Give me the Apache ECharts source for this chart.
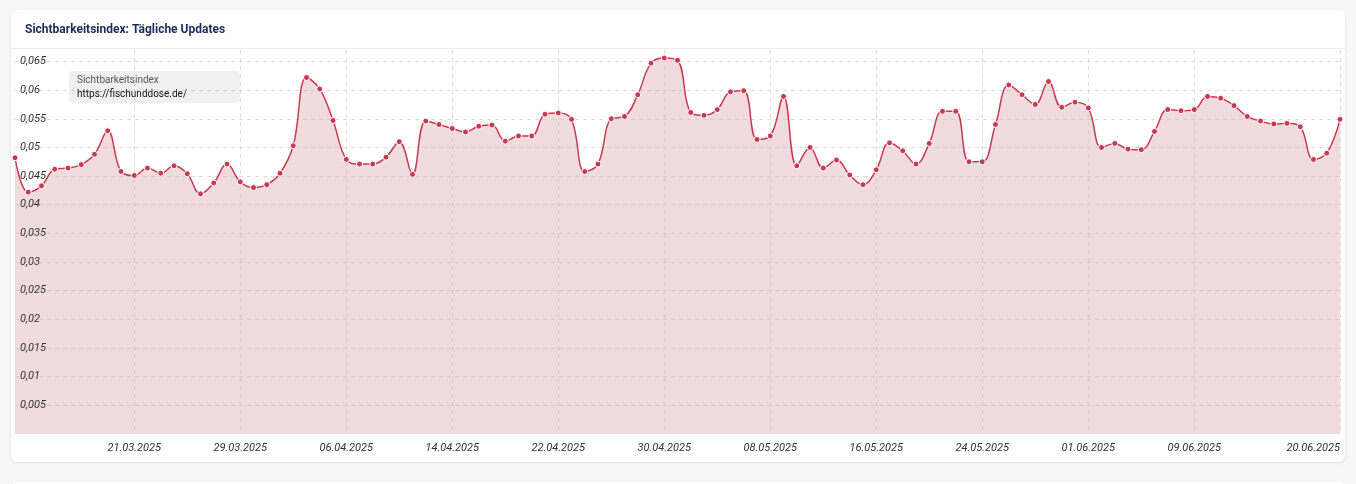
<!DOCTYPE html>
<html>
<head>
<meta charset="utf-8">
<script src="https://cdn.jsdelivr.net/npm/echarts@6/dist/echarts.min.js"></script>
<style>
  html, body { margin: 0; padding: 0; background: #f7f7f7; }
  #card { position: absolute; left: 11px; top: 10px; width: 1334px; height: 452px; background: #fff;
          border-radius: 6px; box-shadow: 0 1px 3px rgba(0,0,0,0.10); }
  #card2 { position: absolute; left: 11px; top: 482px; width: 1334px; height: 40px; background: #fff;
          border-radius: 6px; box-shadow: 0 1px 3px rgba(0,0,0,0.10); }
  #sep { position: absolute; left: 11px; top: 48px; width: 1334px; height: 1px; background: #ececec; }
  #chart { position: absolute; left: 0; top: 0; width: 1356px; height: 484px; }
</style>
</head>
<body>
<div id="card"></div>
<div id="card2"></div>
<div id="sep"></div>
<div id="chart"></div>
<script>
const chartTitle = 'Sichtbarkeitsindex: Tägliche Updates';
const seriesName = 'Sichtbarkeitsindex';
const domainName = 'https://fischunddose.de/';

const dates = [
  '12.03.2025','13.03.2025','14.03.2025','15.03.2025','16.03.2025','17.03.2025','18.03.2025','19.03.2025','20.03.2025','21.03.2025',
  '22.03.2025','23.03.2025','24.03.2025','25.03.2025','26.03.2025','27.03.2025','28.03.2025','29.03.2025','30.03.2025','31.03.2025',
  '01.04.2025','02.04.2025','03.04.2025','04.04.2025','05.04.2025','06.04.2025','07.04.2025','08.04.2025','09.04.2025','10.04.2025',
  '11.04.2025','12.04.2025','13.04.2025','14.04.2025','15.04.2025','16.04.2025','17.04.2025','18.04.2025','19.04.2025','20.04.2025',
  '21.04.2025','22.04.2025','23.04.2025','24.04.2025','25.04.2025','26.04.2025','27.04.2025','28.04.2025','29.04.2025','30.04.2025',
  '01.05.2025','02.05.2025','03.05.2025','04.05.2025','05.05.2025','06.05.2025','07.05.2025','08.05.2025','09.05.2025','10.05.2025',
  '11.05.2025','12.05.2025','13.05.2025','14.05.2025','15.05.2025','16.05.2025','17.05.2025','18.05.2025','19.05.2025','20.05.2025',
  '21.05.2025','22.05.2025','23.05.2025','24.05.2025','25.05.2025','26.05.2025','27.05.2025','28.05.2025','29.05.2025','30.05.2025',
  '31.05.2025','01.06.2025','02.06.2025','03.06.2025','04.06.2025','05.06.2025','06.06.2025','07.06.2025','08.06.2025','09.06.2025',
  '10.06.2025','11.06.2025','12.06.2025','13.06.2025','14.06.2025','15.06.2025','16.06.2025','17.06.2025','18.06.2025','19.06.2025',
  '20.06.2025'
];

const visibility = [
  0.0482, 0.0422, 0.0433, 0.0462, 0.0464, 0.0470, 0.0488, 0.0529, 0.0458, 0.0451,
  0.0464, 0.0455, 0.0468, 0.0454, 0.0419, 0.0438, 0.0471, 0.0440, 0.0430, 0.0435,
  0.0455, 0.0503, 0.0622, 0.0602, 0.0547, 0.0479, 0.0471, 0.0471, 0.0483, 0.0510,
  0.0453, 0.0546, 0.0540, 0.0533, 0.0527, 0.0537, 0.0539, 0.0511, 0.0520, 0.0520,
  0.0558, 0.0560, 0.0549, 0.0458, 0.0471, 0.0550, 0.0554, 0.0592, 0.0647, 0.0656,
  0.0652, 0.0561, 0.0556, 0.0566, 0.0597, 0.0599, 0.0514, 0.0520, 0.0589, 0.0468,
  0.0500, 0.0464, 0.0478, 0.0452, 0.0435, 0.0461, 0.0508, 0.0494, 0.0471, 0.0507,
  0.0563, 0.0563, 0.0475, 0.0475, 0.0540, 0.0609, 0.0592, 0.0575, 0.0615, 0.0570,
  0.0579, 0.0569, 0.0500, 0.0507, 0.0497, 0.0496, 0.0528, 0.0566, 0.0564, 0.0566,
  0.0589, 0.0586, 0.0573, 0.0554, 0.0546, 0.0541, 0.0542, 0.0536, 0.0479, 0.0490,
  0.0549
];

const tickDates = ['21.03.2025','29.03.2025','06.04.2025','14.04.2025','22.04.2025','30.04.2025',
  '08.05.2025','16.05.2025','24.05.2025','01.06.2025','09.06.2025','20.06.2025'];

const yMin = 0, yMax = 0.067, yStep = 0.005;

const showTick = (i) => tickDates.indexOf(dates[i]) >= 0;
const FONT = 'Roboto, "Noto Sans", sans-serif';
const GRID_COLOR = 'rgba(190,190,190,0.55)';

const chart = echarts.init(document.getElementById('chart'), null, { renderer: 'canvas' });
chart.setOption({
  backgroundColor: 'transparent',
  animation: false,
  title: {
    text: chartTitle, left: 25, top: 24, padding: 0,
    textStyle: { fontFamily: FONT, fontSize: 12, fontWeight: 'bold', color: '#1c2b5a' }
  },
  graphic: [{
    type: 'group', left: 69, top: 71, z: 100,
    children: [
      { type: 'rect', shape: { x: 0, y: 0, width: 171, height: 32, r: 4 }, style: { fill: '#f0f0f0' } },
      { type: 'text', x: 8, y: 4, style: { text: seriesName, font: '10px ' + FONT, fill: '#555' } },
      { type: 'text', x: 8, y: 18, style: { text: domainName, font: '10px ' + FONT, fill: '#111' } }
    ]
  }],
  grid: { left: 15, right: 16, top: 50, bottom: 50, containLabel: false },
  xAxis: {
    type: 'category', data: dates, boundaryGap: false, z: 2,
    axisLine: { show: false },
    axisTick: { show: false },
    axisLabel: {
      interval: (i) => showTick(i), margin: 9, fontFamily: FONT, fontSize: 11, fontStyle: 'italic', color: '#333',
      alignMaxLabel: 'right', showMaxLabel: true
    },
    splitLine: { show: true, interval: (i) => showTick(i), lineStyle: { color: GRID_COLOR, type: [4, 4], width: 1 } }
  },
  yAxis: {
    type: 'value', min: yMin, max: yMax, interval: yStep, z: 2,
    axisLine: { show: false }, axisTick: { show: false },
    axisLabel: {
      inside: true, margin: 5, showMinLabel: false, showMaxLabel: false,
      fontFamily: FONT, fontSize: 11, fontStyle: 'italic', color: '#333',
      formatter: (v) => String(+v.toFixed(3)).replace('.', ',')
    },
    splitLine: { show: true, showMinLine: false, showMaxLine: false, lineStyle: { color: GRID_COLOR, type: [4, 4], width: 1 } }
  },
  series: [{
    name: seriesName + ' (Fläche)', type: 'line', data: visibility, smooth: 0.4,
    showSymbol: false, symbol: 'none',
    lineStyle: { width: 0, opacity: 0 },
    areaStyle: { color: '#f0dcdf', opacity: 1 },
    silent: true, z: 1
  }, {
    name: seriesName, type: 'line', data: visibility, smooth: 0.4,
    symbol: 'circle', symbolSize: 6, showSymbol: true,
    lineStyle: { color: '#c83a52', width: 1.5 },
    itemStyle: { color: '#c83a52', borderColor: '#ffffff', borderWidth: 1 },
    z: 3
  }]
});
</script>
</body>
</html>
